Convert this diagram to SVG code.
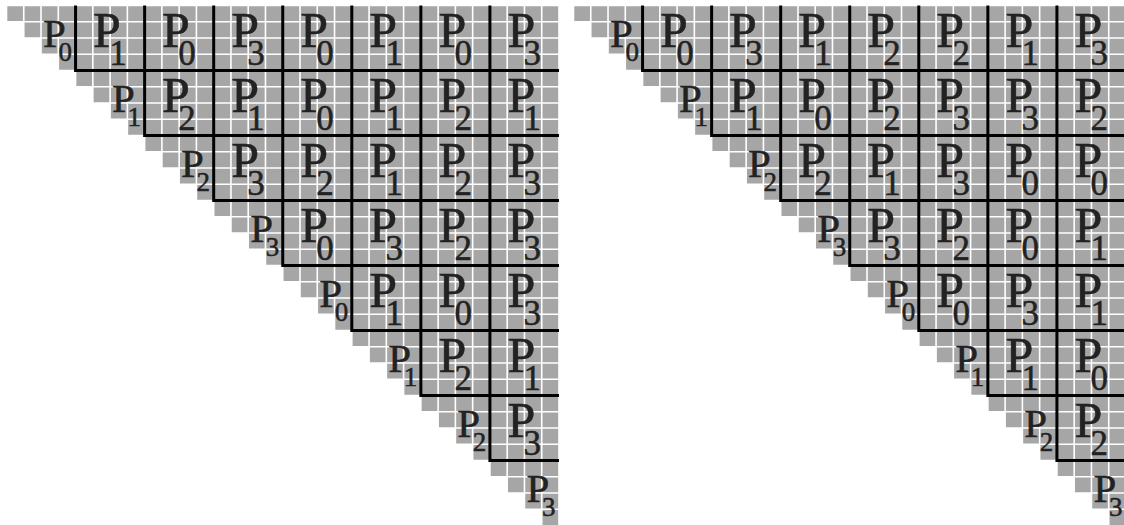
<svg xmlns="http://www.w3.org/2000/svg" width="1124" height="525" viewBox="0 0 1124 525">
<defs>
<style>
.bg{fill:#fff}
.cells{fill:#a6a6a6;stroke:none}
.grid{fill:none;stroke:#fff;stroke-width:1.6}
.blk{fill:none;stroke:#000;stroke-width:3;stroke-linejoin:miter}
text{font-family:"Liberation Serif","Times New Roman",serif;fill:#222;stroke:#222;stroke-width:0.5}
.d{font-size:41px}
.ds{font-size:27px}
.o{font-size:50px}
.os{font-size:35px}
</style>
<path id="stair" d="M0 0H552.48V520h-17.265v-16.25h-17.265v-16.25h-17.265v-16.25h-17.265v-16.25h-17.265v-16.25h-17.265v-16.25h-17.265v-16.25h-17.265v-16.25h-17.265v-16.25h-17.265v-16.25h-17.265v-16.25h-17.265v-16.25h-17.265v-16.25h-17.265v-16.25h-17.265v-16.25h-17.265v-16.25h-17.265v-16.25h-17.265v-16.25h-17.265v-16.25h-17.265v-16.25h-17.265v-16.25h-17.265v-16.25h-17.265v-16.25h-17.265v-16.25h-17.265v-16.25h-17.265v-16.25h-17.265v-16.25h-17.265v-16.25h-17.265v-16.25h-17.265v-16.25h-17.265v-16.25h-17.265v-16.25z"/>
<path id="gridlines" d="M0 0v520m17.265-520v520m17.265-520v520m17.265-520v520m17.265-520v520m17.265-520v520m17.265-520v520m17.265-520v520m17.265-520v520m17.265-520v520m17.265-520v520m17.265-520v520m17.265-520v520m17.265-520v520m17.265-520v520m17.265-520v520m17.265-520v520m17.265-520v520m17.265-520v520m17.265-520v520m17.265-520v520m17.265-520v520m17.265-520v520m17.265-520v520m17.265-520v520m17.265-520v520m17.265-520v520m17.265-520v520m17.265-520v520m17.265-520v520m17.265-520v520m17.265-520v520m17.265-520v520M0 0h552.48m-552.48 16.25h552.48m-552.48 16.25h552.48m-552.48 16.25h552.48m-552.48 16.25h552.48m-552.48 16.25h552.48m-552.48 16.25h552.48m-552.48 16.25h552.48m-552.48 16.25h552.48m-552.48 16.25h552.48m-552.48 16.25h552.48m-552.48 16.25h552.48m-552.48 16.25h552.48m-552.48 16.25h552.48m-552.48 16.25h552.48m-552.48 16.25h552.48m-552.48 16.25h552.48m-552.48 16.25h552.48m-552.48 16.25h552.48m-552.48 16.25h552.48m-552.48 16.25h552.48m-552.48 16.25h552.48m-552.48 16.25h552.48m-552.48 16.25h552.48m-552.48 16.25h552.48m-552.48 16.25h552.48m-552.48 16.25h552.48m-552.48 16.25h552.48m-552.48 16.25h552.48m-552.48 16.25h552.48m-552.48 16.25h552.48m-552.48 16.25h552.48"/>
<path id="blocks" d="M69.06 0V65H552.48M138.12 0V130H552.48M207.18 0V195H552.48M276.24 0V260H552.48M345.3 0V325H552.48M414.36 0V390H552.48M483.42 0V455H552.48"/>
</defs>
<rect class="bg" x="0" y="0" width="1124" height="525"/>

<g id="left-matrix" transform="translate(6.5 5.5)">
<use href="#stair" class="cells"/>
<use href="#gridlines" class="grid"/>
</g>
<g id="right-matrix" transform="translate(573.5 5.5)">
<use href="#stair" class="cells"/>
<use href="#gridlines" class="grid"/>
</g>

<g id="connectors">
<use href="#blocks" class="blk" transform="translate(6.5 5.5)"/>
<use href="#blocks" class="blk" transform="translate(573.5 5.5)"/>
</g>

<g id="left-labels">
<g id="L-0-0"><text><tspan class="d" x="43" y="47">P</tspan><tspan class="ds" x="58.5" y="60.5">0</tspan></text></g>
<g id="L-0-1"><text><tspan class="o" x="93" y="46.7">P</tspan><tspan class="os" x="109.16" y="65">1</tspan></text></g>
<g id="L-0-2"><text><tspan class="o" x="162.1" y="46.7">P</tspan><tspan class="os" x="178.22" y="65">0</tspan></text></g>
<g id="L-0-3"><text><tspan class="o" x="231.2" y="46.7">P</tspan><tspan class="os" x="247.28" y="65">3</tspan></text></g>
<g id="L-0-4"><text><tspan class="o" x="300.2" y="46.7">P</tspan><tspan class="os" x="316.34" y="65">0</tspan></text></g>
<g id="L-0-5"><text><tspan class="o" x="369.3" y="46.7">P</tspan><tspan class="os" x="385.4" y="65">1</tspan></text></g>
<g id="L-0-6"><text><tspan class="o" x="438.4" y="46.7">P</tspan><tspan class="os" x="454.46" y="65">0</tspan></text></g>
<g id="L-0-7"><text><tspan class="o" x="507.4" y="46.7">P</tspan><tspan class="os" x="523.52" y="65">3</tspan></text></g>

<g id="L-1-1"><text><tspan class="d" x="112.06" y="112">P</tspan><tspan class="ds" x="127.56" y="125.5">1</tspan></text></g>
<g id="L-1-2"><text><tspan class="o" x="162.1" y="111.7">P</tspan><tspan class="os" x="178.22" y="130">2</tspan></text></g>
<g id="L-1-3"><text><tspan class="o" x="231.2" y="111.7">P</tspan><tspan class="os" x="247.28" y="130">1</tspan></text></g>
<g id="L-1-4"><text><tspan class="o" x="300.2" y="111.7">P</tspan><tspan class="os" x="316.34" y="130">0</tspan></text></g>
<g id="L-1-5"><text><tspan class="o" x="369.3" y="111.7">P</tspan><tspan class="os" x="385.4" y="130">1</tspan></text></g>
<g id="L-1-6"><text><tspan class="o" x="438.4" y="111.7">P</tspan><tspan class="os" x="454.46" y="130">2</tspan></text></g>
<g id="L-1-7"><text><tspan class="o" x="507.4" y="111.7">P</tspan><tspan class="os" x="523.52" y="130">1</tspan></text></g>

<g id="L-2-2"><text><tspan class="d" x="181.12" y="177">P</tspan><tspan class="ds" x="196.62" y="190.5">2</tspan></text></g>
<g id="L-2-3"><text><tspan class="o" x="231.2" y="176.7">P</tspan><tspan class="os" x="247.28" y="195">3</tspan></text></g>
<g id="L-2-4"><text><tspan class="o" x="300.2" y="176.7">P</tspan><tspan class="os" x="316.34" y="195">2</tspan></text></g>
<g id="L-2-5"><text><tspan class="o" x="369.3" y="176.7">P</tspan><tspan class="os" x="385.4" y="195">1</tspan></text></g>
<g id="L-2-6"><text><tspan class="o" x="438.4" y="176.7">P</tspan><tspan class="os" x="454.46" y="195">2</tspan></text></g>
<g id="L-2-7"><text><tspan class="o" x="507.4" y="176.7">P</tspan><tspan class="os" x="523.52" y="195">3</tspan></text></g>

<g id="L-3-3"><text><tspan class="d" x="250.18" y="242">P</tspan><tspan class="ds" x="265.68" y="255.5">3</tspan></text></g>
<g id="L-3-4"><text><tspan class="o" x="300.2" y="241.7">P</tspan><tspan class="os" x="316.34" y="260">0</tspan></text></g>
<g id="L-3-5"><text><tspan class="o" x="369.3" y="241.7">P</tspan><tspan class="os" x="385.4" y="260">3</tspan></text></g>
<g id="L-3-6"><text><tspan class="o" x="438.4" y="241.7">P</tspan><tspan class="os" x="454.46" y="260">2</tspan></text></g>
<g id="L-3-7"><text><tspan class="o" x="507.4" y="241.7">P</tspan><tspan class="os" x="523.52" y="260">3</tspan></text></g>

<g id="L-4-4"><text><tspan class="d" x="319.24" y="307">P</tspan><tspan class="ds" x="334.74" y="320.5">0</tspan></text></g>
<g id="L-4-5"><text><tspan class="o" x="369.3" y="306.7">P</tspan><tspan class="os" x="385.4" y="325">1</tspan></text></g>
<g id="L-4-6"><text><tspan class="o" x="438.4" y="306.7">P</tspan><tspan class="os" x="454.46" y="325">0</tspan></text></g>
<g id="L-4-7"><text><tspan class="o" x="507.4" y="306.7">P</tspan><tspan class="os" x="523.52" y="325">3</tspan></text></g>

<g id="L-5-5"><text><tspan class="d" x="388.3" y="372">P</tspan><tspan class="ds" x="403.8" y="385.5">1</tspan></text></g>
<g id="L-5-6"><text><tspan class="o" x="438.4" y="371.7">P</tspan><tspan class="os" x="454.46" y="390">2</tspan></text></g>
<g id="L-5-7"><text><tspan class="o" x="507.4" y="371.7">P</tspan><tspan class="os" x="523.52" y="390">1</tspan></text></g>

<g id="L-6-6"><text><tspan class="d" x="457.36" y="437">P</tspan><tspan class="ds" x="472.86" y="450.5">2</tspan></text></g>
<g id="L-6-7"><text><tspan class="o" x="507.4" y="436.7">P</tspan><tspan class="os" x="523.52" y="455">3</tspan></text></g>

<g id="L-7-7"><text><tspan class="d" x="526.42" y="502">P</tspan><tspan class="ds" x="541.92" y="515.5">3</tspan></text></g>
</g>

<g id="right-labels">
<g id="R-0-0"><text><tspan class="d" x="610" y="47">P</tspan><tspan class="ds" x="625.5" y="60.5">0</tspan></text></g>
<g id="R-0-1"><text><tspan class="o" x="660" y="46.7">P</tspan><tspan class="os" x="676.16" y="65">0</tspan></text></g>
<g id="R-0-2"><text><tspan class="o" x="729.1" y="46.7">P</tspan><tspan class="os" x="745.22" y="65">3</tspan></text></g>
<g id="R-0-3"><text><tspan class="o" x="798.2" y="46.7">P</tspan><tspan class="os" x="814.28" y="65">1</tspan></text></g>
<g id="R-0-4"><text><tspan class="o" x="867.2" y="46.7">P</tspan><tspan class="os" x="883.34" y="65">2</tspan></text></g>
<g id="R-0-5"><text><tspan class="o" x="936.3" y="46.7">P</tspan><tspan class="os" x="952.4" y="65">2</tspan></text></g>
<g id="R-0-6"><text><tspan class="o" x="1005.4" y="46.7">P</tspan><tspan class="os" x="1021.46" y="65">1</tspan></text></g>
<g id="R-0-7"><text><tspan class="o" x="1074.4" y="46.7">P</tspan><tspan class="os" x="1090.52" y="65">3</tspan></text></g>

<g id="R-1-1"><text><tspan class="d" x="679.06" y="112">P</tspan><tspan class="ds" x="694.56" y="125.5">1</tspan></text></g>
<g id="R-1-2"><text><tspan class="o" x="729.1" y="111.7">P</tspan><tspan class="os" x="745.22" y="130">1</tspan></text></g>
<g id="R-1-3"><text><tspan class="o" x="798.2" y="111.7">P</tspan><tspan class="os" x="814.28" y="130">0</tspan></text></g>
<g id="R-1-4"><text><tspan class="o" x="867.2" y="111.7">P</tspan><tspan class="os" x="883.34" y="130">2</tspan></text></g>
<g id="R-1-5"><text><tspan class="o" x="936.3" y="111.7">P</tspan><tspan class="os" x="952.4" y="130">3</tspan></text></g>
<g id="R-1-6"><text><tspan class="o" x="1005.4" y="111.7">P</tspan><tspan class="os" x="1021.46" y="130">3</tspan></text></g>
<g id="R-1-7"><text><tspan class="o" x="1074.4" y="111.7">P</tspan><tspan class="os" x="1090.52" y="130">2</tspan></text></g>

<g id="R-2-2"><text><tspan class="d" x="748.12" y="177">P</tspan><tspan class="ds" x="763.62" y="190.5">2</tspan></text></g>
<g id="R-2-3"><text><tspan class="o" x="798.2" y="176.7">P</tspan><tspan class="os" x="814.28" y="195">2</tspan></text></g>
<g id="R-2-4"><text><tspan class="o" x="867.2" y="176.7">P</tspan><tspan class="os" x="883.34" y="195">1</tspan></text></g>
<g id="R-2-5"><text><tspan class="o" x="936.3" y="176.7">P</tspan><tspan class="os" x="952.4" y="195">3</tspan></text></g>
<g id="R-2-6"><text><tspan class="o" x="1005.4" y="176.7">P</tspan><tspan class="os" x="1021.46" y="195">0</tspan></text></g>
<g id="R-2-7"><text><tspan class="o" x="1074.4" y="176.7">P</tspan><tspan class="os" x="1090.52" y="195">0</tspan></text></g>

<g id="R-3-3"><text><tspan class="d" x="817.18" y="242">P</tspan><tspan class="ds" x="832.68" y="255.5">3</tspan></text></g>
<g id="R-3-4"><text><tspan class="o" x="867.2" y="241.7">P</tspan><tspan class="os" x="883.34" y="260">3</tspan></text></g>
<g id="R-3-5"><text><tspan class="o" x="936.3" y="241.7">P</tspan><tspan class="os" x="952.4" y="260">2</tspan></text></g>
<g id="R-3-6"><text><tspan class="o" x="1005.4" y="241.7">P</tspan><tspan class="os" x="1021.46" y="260">0</tspan></text></g>
<g id="R-3-7"><text><tspan class="o" x="1074.4" y="241.7">P</tspan><tspan class="os" x="1090.52" y="260">1</tspan></text></g>

<g id="R-4-4"><text><tspan class="d" x="886.24" y="307">P</tspan><tspan class="ds" x="901.74" y="320.5">0</tspan></text></g>
<g id="R-4-5"><text><tspan class="o" x="936.3" y="306.7">P</tspan><tspan class="os" x="952.4" y="325">0</tspan></text></g>
<g id="R-4-6"><text><tspan class="o" x="1005.4" y="306.7">P</tspan><tspan class="os" x="1021.46" y="325">3</tspan></text></g>
<g id="R-4-7"><text><tspan class="o" x="1074.4" y="306.7">P</tspan><tspan class="os" x="1090.52" y="325">1</tspan></text></g>

<g id="R-5-5"><text><tspan class="d" x="955.3" y="372">P</tspan><tspan class="ds" x="970.8" y="385.5">1</tspan></text></g>
<g id="R-5-6"><text><tspan class="o" x="1005.4" y="371.7">P</tspan><tspan class="os" x="1021.46" y="390">1</tspan></text></g>
<g id="R-5-7"><text><tspan class="o" x="1074.4" y="371.7">P</tspan><tspan class="os" x="1090.52" y="390">0</tspan></text></g>

<g id="R-6-6"><text><tspan class="d" x="1024.36" y="437">P</tspan><tspan class="ds" x="1039.86" y="450.5">2</tspan></text></g>
<g id="R-6-7"><text><tspan class="o" x="1074.4" y="436.7">P</tspan><tspan class="os" x="1090.52" y="455">2</tspan></text></g>

<g id="R-7-7"><text><tspan class="d" x="1093.42" y="502">P</tspan><tspan class="ds" x="1108.92" y="515.5">3</tspan></text></g>
</g>
</svg>
